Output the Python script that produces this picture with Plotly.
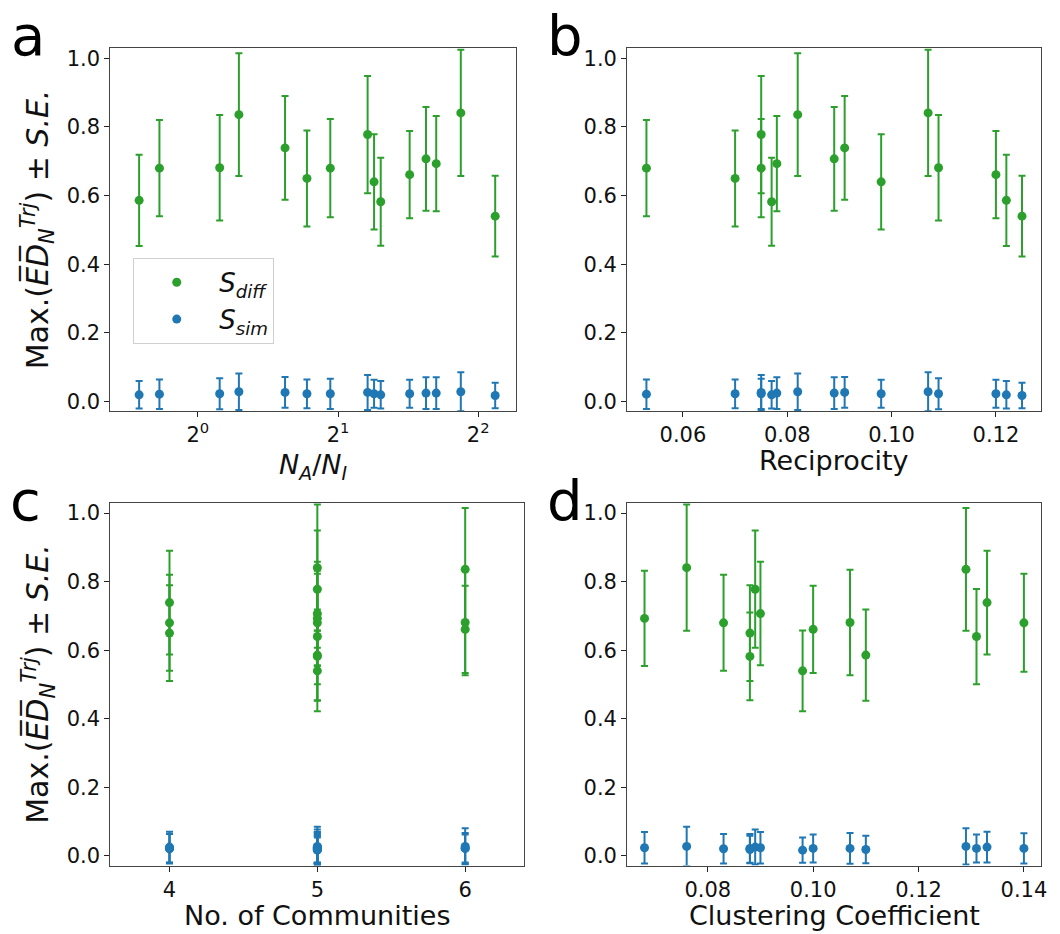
import plotly.graph_objects as go
import math

# ---- data (one entry per network) ----
na_ni = [0.748, 0.827, 1.114, 1.225, 1.539, 1.715, 1.925, 2.315, 2.39, 2.47, 2.85, 3.09, 3.25, 3.67, 4.35]
reciprocity = [0.122, 0.053, 0.109, 0.082, 0.091, 0.070, 0.075, 0.075, 0.098, 0.077, 0.120, 0.089, 0.078, 0.107, 0.125]
communities = [5, 4, 6, 6, 4, 4, 5, 5, 5, 5, 6, 5, 5, 5, 5]
clustering = [0.110, 0.083, 0.107, 0.129, 0.133, 0.088, 0.140, 0.089, 0.131, 0.088, 0.100, 0.090, 0.068, 0.076, 0.098]
diff_mean = [0.586, 0.680, 0.681, 0.836, 0.739, 0.650, 0.680, 0.778, 0.640, 0.582, 0.661, 0.707, 0.693, 0.841, 0.540]
diff_se = [0.133, 0.140, 0.154, 0.179, 0.151, 0.140, 0.143, 0.171, 0.139, 0.128, 0.127, 0.151, 0.139, 0.184, 0.118]
sim_mean = [0.019, 0.021, 0.022, 0.028, 0.026, 0.022, 0.022, 0.026, 0.022, 0.019, 0.022, 0.024, 0.024, 0.028, 0.017]
sim_se = [0.040, 0.043, 0.045, 0.053, 0.045, 0.042, 0.044, 0.051, 0.041, 0.040, 0.041, 0.046, 0.046, 0.057, 0.037]

y_ticks = [0.0, 0.2, 0.4, 0.6, 0.8, 1.0]
a_ticks = [1, 2, 4]
a_ticktext = ["2<sup>0</sup>", "2<sup>1</sup>", "2<sup>2</sup>"]
b_ticks = [0.06, 0.08, 0.10, 0.12]
c_ticks = [4, 5, 6]
d_ticks = [0.08, 0.10, 0.12, 0.14]

x_titles = ["<i>N</i><sub><i>A</i></sub>/<i>N</i><sub><i>I</i></sub>", "Reciprocity",
            "No. of Communities", "Clustering Coefficient"]
y_title = "Max.(<i>E̅D̅</i><sub><i>N</i></sub><sup><i>Trj</i></sup>) ± <i>S.E.</i>"
legend_names = ["<i>S</i><sub><i>diff</i></sub>", "<i>S</i><sub><i>sim</i></sub>"]
panel_letters = ["a", "b", "c", "d"]

GREEN = "#2ca02c"
BLUE = "#1f77b4"
FONT = "DejaVu Sans"
W, H = 1060, 934

fig = go.Figure()

panels = [
    ("x", "y", na_ni),
    ("x2", "y2", reciprocity),
    ("x3", "y3", communities),
    ("x4", "y4", clustering),
]
for i, (xa, ya, xs) in enumerate(panels):
    for name, ys, es, col in [(legend_names[0], diff_mean, diff_se, GREEN),
                              (legend_names[1], sim_mean, sim_se, BLUE)]:
        fig.add_trace(go.Scatter(
            x=xs, y=ys, mode="markers", xaxis=xa, yaxis=ya,
            name=name, showlegend=(i == 0),
            marker=dict(color=col, size=9),
            error_y=dict(type="data", array=es, visible=True, color=col,
                         thickness=2, width=3.5),
        ))

def px_x(p):
    return p / W

def px_y(p):
    return 1 - p / H

dom_x_left_a = [px_x(111), px_x(519)]
dom_x_left_c = [px_x(111), px_x(527.3)]
dom_x_right = [px_x(630.7), px_x(1046.7)]
dom_y_top = [px_y(411.7), px_y(47.3)]
dom_y_bot = [px_y(868.3), px_y(504)]

axis_common = dict(showline=True, linecolor="#444", linewidth=1, mirror=True,
                   ticks="outside", ticklen=5, tickcolor="#222", showgrid=False,
                   zeroline=False, tickfont=dict(family=FONT, size=21, color="#111"))

yr = [-0.028, 1.03]
fig.update_layout(
    width=W, height=H, margin=dict(l=0, r=0, t=0, b=0),
    paper_bgcolor="white", plot_bgcolor="white",
    font=dict(family=FONT),
    xaxis=dict(domain=dom_x_left_a, anchor="y", type="log",
               range=[-0.624 * math.log10(2), 2.27 * math.log10(2)],
               tickvals=a_ticks, ticktext=a_ticktext, **axis_common),
    yaxis=dict(domain=dom_y_top, anchor="x", range=yr, tickvals=y_ticks, tickformat=".1f",
               **axis_common),
    xaxis2=dict(domain=dom_x_right, anchor="y2", range=[0.0493, 0.1286],
                tickvals=b_ticks, tickformat=".2f", **axis_common),
    yaxis2=dict(domain=dom_y_top, anchor="x2", range=yr, tickvals=y_ticks, tickformat=".1f",
                **axis_common),
    xaxis3=dict(domain=dom_x_left_c, anchor="y3", range=[3.6, 6.4],
                tickvals=c_ticks, **axis_common),
    yaxis3=dict(domain=dom_y_bot, anchor="x3", range=yr, tickvals=y_ticks, tickformat=".1f",
                **axis_common),
    xaxis4=dict(domain=dom_x_right, anchor="y4", range=[0.0647, 0.1432],
                tickvals=d_ticks, tickformat=".2f", **axis_common),
    yaxis4=dict(domain=dom_y_bot, anchor="x4", range=yr, tickvals=y_ticks, tickformat=".1f",
                **axis_common),
    legend=dict(x=px_x(134), y=px_y(258), xanchor="left", yanchor="top",
                bgcolor="white", bordercolor="#d0d0d0", borderwidth=1,
                font=dict(family=FONT, size=26, color="#111"),
                itemwidth=75, tracegroupgap=2),
    showlegend=True,
)

# axis titles
xt_pos = [(315, 467), (839, 461), (319, 918), (839, 918)]
for txt, (cx, cy) in zip(x_titles, xt_pos):
    fig.add_annotation(text=txt, x=px_x(cx), y=px_y(cy), xref="paper", yref="paper",
                       showarrow=False, xanchor="center", yanchor="middle",
                       font=dict(family=FONT, size=27, color="#111"))
for cy in [229.5, 686]:
    fig.add_annotation(text=y_title, x=px_x(38), y=px_y(cy), xref="paper", yref="paper",
                       showarrow=False, xanchor="center", yanchor="middle", textangle=-90,
                       font=dict(family=FONT, size=30, color="#111"))

for letter, (lx, ly) in zip(panel_letters, [(28, 35), (568, 35), (26, 502), (568, 502)]):
    fig.add_annotation(text=letter, x=px_x(lx), y=px_y(ly), xref="paper", yref="paper",
                       showarrow=False, xanchor="center", yanchor="middle",
                       font=dict(family=FONT, size=56, color="black"))

fig.write_html("out.html")
